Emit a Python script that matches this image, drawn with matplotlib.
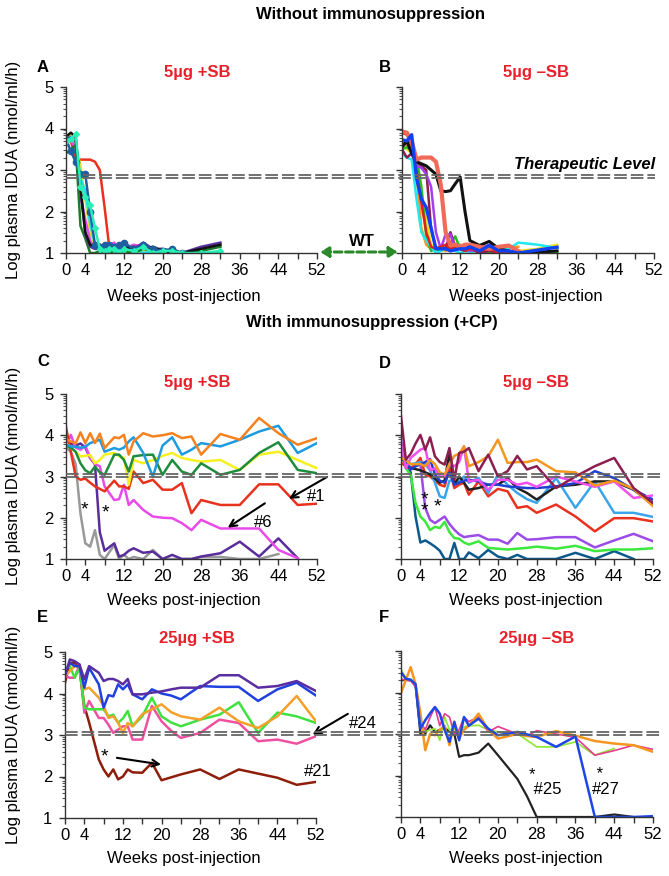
import numpy as np
import matplotlib.pyplot as plt
from matplotlib.lines import Line2D
from matplotlib.transforms import blended_transform_factory

plt.rcParams['font.family'] = ['Liberation Sans', 'DejaVu Sans']

nan = np.nan

# ---- A: 5ug +SB, no immunosuppression
weeks_a = [0, 1, 2, 3, 4, 5, 6, 7, 8, 9, 10, 11, 12, 14, 16, 18, 20, 22, 24, 28, 32]
a_black = [3.8, 3.9, 3.8, 2.6, 1.5, 1.2, 1.15, 1.2, 1.1, 1.15, 1.1, 1.2, 1.1, 1.15, 1.1, 1.15, 1.05, 1.0, 1.0, 1.1, 1.2]
a_purple = [3.7, 3.8, 3.7, 2.5, 1.45, 1.15, 1.1, 1.1, 1.05, 1.1, 1.1, 1.15, 1.2, 1.1, 1.25, 1.1, 1.1, 1.05, 1.0, 1.15, 1.25]
a_green = [3.4, 3.5, 3.6, 1.65, 1.35, 1.0, 1.0, 1.05, 1.0, 1.0, 1.05, 1.0, 1.05, 1.0, 1.1, 1.05, 1.0, 1.0, 1.0, 1.05, 1.15]
a_red = [3.8, 3.7, 3.3, 3.25, 3.25, 3.25, 3.2, 3.0, 2.1, 1.1, 1.1, 1.2, 1.1, 1.1, 1.05, 1.1, 1.0, 1.0, 1.0, nan, nan]
a_yellow = [3.8, 3.85, 3.6, 3.1, 2.3, 1.5, 1.15, 1.1, 1.05, 1.1, 1.05, 1.1, 1.05, 1.0, 1.05, 1.0, 1.05, 1.0, 1.0, nan, nan]
a_magenta = [3.7, 3.75, 3.5, 2.4, 1.8, 1.3, 1.1, 1.2, 1.1, 1.2, 1.25, 1.1, 1.1, 1.2, 1.15, 1.0, 1.05, 1.0, 1.0, nan, nan]
a_cyan = [3.6, 3.75, 3.7, 2.8, 2.5, 1.7, 1.2, 1.05, 1.1, 1.0, 1.05, 1.1, 1.05, 1.1, 1.0, 1.05, 1.0, 1.0, 1.0, 1.0, 1.0]
a_navy = [3.75, 3.45, 3.2, 2.9, 2.9, 2.0, 1.2, 1.15, 1.2, 1.2, 1.15, 1.2, 1.25, 1.1, 1.2, 1.1, 1.05, 1.1, 1.0, nan, nan]
a_mint = [3.7, 3.75, 3.87, 2.6, 2.35, 2.15, 1.6, 1.1, 1.05, 1.1, 1.1, 1.0, 1.1, 1.05, 1.15, 1.0, 1.05, 1.05, 1.0, 1.0, 1.05]

# ---- B: 5ug -SB, no immunosuppression
weeks_b = [0, 1, 2, 3, 4, 5, 6, 7, 8, 9, 10, 11, 12, 13, 14, 16, 18, 20, 22, 24, 28, 32]
b_black = [3.55, 3.7, 3.4, 3.2, 3.15, 3.1, 3.0, 2.9, 2.5, 2.48, 2.5, 2.67, 2.83, 2.0, 1.3, 1.18, 1.28, 1.1, 1.05, 1.0, 1.02, 1.05]
b_salmon = [3.93, 3.9, 3.7, 3.25, 3.3, 3.3, 3.3, 3.2, 2.65, 1.5, 1.18, 1.2, 1.15, 1.2, 1.2, 1.15, 1.1, 1.15, 1.18, 1.05, nan, nan]
b_red = [3.9, 3.85, 3.6, 3.0, 2.2, 1.5, 1.15, 1.1, 1.15, 1.2, 1.1, 1.15, 1.1, 1.05, 1.1, 1.05, 1.1, 1.0, 1.05, 1.0, nan, nan]
b_purple = [3.6, 3.7, 3.4, 3.1, 3.05, 2.9, 2.6, 1.5, 1.1, 1.45, 1.45, 1.1, 1.15, 1.1, 1.05, 1.1, 1.2, 1.05, 1.0, 1.05, nan, nan]
b_maroon = [3.5, 3.3, 3.4, 3.2, 3.1, 3.0, 1.6, 1.1, 1.15, 1.1, 1.5, 1.15, 1.1, 1.05, 1.1, 1.0, 1.05, 1.0, 1.05, 1.0, nan, nan]
b_cyan = [3.4, 3.3, 3.25, 2.3, 1.5, 1.3, 1.15, 1.0, 1.05, 1.15, 1.1, 1.05, 1.0, 1.05, 1.0, 1.1, 1.05, 1.1, 1.1, 1.25, 1.2, 1.12]
b_green = [3.5, 3.55, 3.45, 3.3, 2.6, 1.4, 1.05, 1.1, 1.05, 1.15, 1.25, 1.4, 1.1, 1.05, 1.1, 1.05, 1.0, 1.05, 1.0, 1.0, 1.0, 1.03]
b_yellow = [3.6, 3.5, 3.4, 3.0, 2.5, 1.8, 1.2, 1.1, 1.05, 1.1, 1.05, 1.1, 1.15, 1.05, 1.1, 1.0, 1.1, 1.05, 1.0, 1.05, 1.1, 1.2]
b_orange = [3.65, 3.6, 3.55, 2.9, 1.6, 1.2, 1.1, 1.15, 1.1, 1.05, 1.15, 1.1, 1.2, 1.1, 1.05, 1.15, 1.1, 1.05, 1.15, 1.15, nan, nan]
b_blue = [3.73, 3.7, 3.85, 2.8, 2.3, 2.1, 1.6, 1.1, 1.1, 1.1, 1.05, 1.08, 1.1, 1.1, 1.15, 1.05, 1.18, 1.05, 1.05, 1.0, 1.07, 1.14]

# ---- C: 5ug +SB, +CP
weeks_c = [0, 1, 2, 3, 4, 5, 6, 7, 8, 10, 11, 12, 13, 14, 16, 18, 20, 22, 24, 26, 28, 32, 36, 40, 44, 48, 52]
c_orange = [3.9, 3.85, 3.8, 4.07, 3.81, 4.05, 3.81, 4.04, 3.69, 3.95, 3.93, 4.01, 3.53, 3.85, 4.05, 3.97, 4.0, 4.05, 3.93, 3.97, 3.53, 4.03, 3.89, 4.42, 4.05, 3.77, 3.93]
c_ltblue = [3.77, 3.73, 3.72, 3.7, 3.72, 3.81, 3.85, 3.89, 3.6, 3.69, 3.65, 3.7, 3.85, 3.95, 3.57, 3.0, 3.75, 3.95, 3.53, 3.65, 3.81, 3.73, 3.89, 4.09, 4.23, 3.57, 3.81]
c_yellow = [3.8, 3.7, 3.6, 3.49, 3.5, 3.52, 3.32, 3.4, 3.53, 3.57, 3.49, 3.45, 2.8, 3.4, 3.32, 3.4, 3.5, 3.57, 3.45, 3.4, 3.36, 3.4, 3.16, 3.53, 3.6, 3.4, 3.2]
c_green = [3.75, 3.7, 3.6, 3.32, 3.15, 3.08, 3.24, 3.1, 3.04, 3.53, 3.53, 3.4, 3.12, 3.49, 3.52, 3.53, 3.04, 3.4, 3.12, 3.04, 3.32, 3.04, 3.16, 3.57, 3.83, 3.16, 3.08]
c_red = [4.2, 3.6, 3.0, 2.92, 2.95, 2.85, 2.76, 2.7, 2.64, 2.9, 2.76, 2.76, 2.7, 3.12, 2.84, 2.92, 2.68, 2.68, 2.84, 2.11, 2.43, 2.31, 2.31, 2.81, 2.81, 2.31, 2.34]
c_magenta = [3.73, 4.01, 3.7, 3.65, 3.75, 3.45, 3.3, 3.25, 2.76, 2.43, 2.45, 2.8, 2.31, 2.43, 2.19, 2.03, 2.0, 1.99, 1.87, 1.7, 1.95, 1.74, 1.74, 1.74, 1.22, 1.02, nan]
c_purple = [3.75, 3.8, 3.75, 3.8, 3.7, 3.45, 3.3, 1.65, 1.2, 1.38, 1.06, 1.1, 1.2, 1.26, 1.15, 1.18, 1.0, 1.1, 1.0, 1.0, 1.06, 1.14, 1.42, 1.06, 1.5, 1.02, nan]
c_gray = [3.7, 3.6, 3.3, 2.1, 1.38, 1.3, 1.7, 1.1, 1.0, 1.34, 1.0, 1.1, 1.0, 1.05, 1.0, 1.22, 1.0, 1.0, 1.0, 1.0, 1.05, 1.05, 1.0, 1.0, 1.12, nan, nan]

# ---- D: 5ug -SB, +CP
weeks_d = [0, 1, 2, 3, 4, 5, 6, 7, 8, 9, 10, 11, 12, 13, 14, 16, 18, 20, 22, 24, 26, 28, 32, 36, 40, 44, 48, 52]
d_maroon = [4.46, 3.41, 3.55, 3.8, 4.01, 3.65, 3.95, 3.49, 3.35, 3.29, 3.69, 2.92, 3.57, 3.6, 3.69, 3.13, 3.53, 3.0, 3.13, 3.5, 3.17, 3.25, 2.72, 3.0, 3.25, 3.45, 2.72, 2.36]
d_orange = [3.45, 3.4, 3.3, 3.3, 3.3, 3.25, 3.4, 3.3, 3.1, 3.05, 3.3, 3.5, 3.55, 3.73, 3.25, 3.35, 3.49, 3.89, 3.33, 3.35, 3.35, 3.41, 3.13, 3.1, 2.78, 2.9, 2.7, 2.28]
d_magenta = [3.81, 3.2, 3.45, 3.55, 3.65, 3.69, 3.15, 3.2, 3.0, 3.0, 3.3, 3.25, 3.35, 3.73, 2.88, 2.92, 2.68, 2.92, 2.92, 2.8, 2.85, 2.75, 3.0, 2.88, 2.75, 2.88, 2.48, 2.54]
d_blue = [3.57, 3.4, 3.17, 3.25, 3.3, 3.35, 3.42, 3.05, 2.9, 2.85, 3.1, 2.8, 2.85, 2.9, 2.92, 2.88, 2.8, 2.8, 2.76, 2.74, 2.72, 2.72, 2.76, 2.84, 3.13, 2.96, 2.68, 2.44]
d_black = [3.5, 3.3, 3.2, 3.18, 3.15, 3.1, 3.05, 2.95, 2.85, 2.9, 3.57, 2.8, 3.0, 2.85, 2.68, 2.72, 2.8, 2.8, 2.96, 2.72, 2.6, 2.44, 2.76, 2.8, 2.88, 2.88, 2.68, 2.32]
d_red = [3.33, 3.25, 3.2, 3.3, 3.45, 3.05, 3.0, 2.9, 2.8, 2.76, 3.2, 2.72, 2.8, 2.85, 2.56, 2.88, 2.52, 2.7, 2.64, 2.24, 2.28, 2.12, 2.32, 2.03, 1.67, 1.99, 1.99, 1.91]
d_ltblue = [3.57, 3.4, 3.3, 3.32, 3.35, 3.3, 3.15, 2.85, 2.52, 2.48, 2.9, 2.9, 2.88, 3.0, 2.85, 2.97, 2.6, 3.05, 2.8, 2.6, 2.45, 2.36, 2.96, 2.24, 2.88, 2.12, 2.12, 2.02]
d_purple = [3.85, 3.3, 3.2, 3.25, 3.3, 2.24, 1.95, 1.87, 1.95, 2.03, 1.85, 1.71, 1.6, 1.53, 1.55, 1.58, 1.47, 1.47, 1.37, 1.63, 1.47, 1.48, 1.53, 1.53, 1.28, 1.45, 1.61, 1.43]
d_green = [3.6, 3.2, 3.04, 2.36, 2.03, 1.91, 1.7, 1.78, 1.75, 1.9, 1.65, 1.51, 1.49, 1.4, 1.35, 1.43, 1.27, 1.25, 1.23, 1.25, 1.27, 1.3, 1.25, 1.32, 1.19, 1.23, 1.23, 1.26]
d_teal = [3.5, 3.3, 3.1, 2.03, 1.4, 1.45, 1.38, 1.3, 1.2, 1.0, 1.0, 1.39, 1.0, 1.0, 1.16, 1.02, 1.22, 1.06, 1.0, 1.1, 1.0, 1.0, 1.0, 1.15, 1.0, 1.19, 1.0, nan]

# ---- E: 25ug +SB, +CP
weeks_e = [0, 1, 2, 3, 4, 5, 7, 8, 9, 10, 11, 12, 13, 14, 16, 18, 20, 22, 24, 28, 32, 36, 40, 44, 48, 52]
e_purple = [4.42, 4.82, 4.78, 4.7, 4.34, 4.66, 4.5, 4.3, 4.35, 4.35, 4.3, 4.22, 4.35, 3.98, 3.98, 4.02, 4.05, 4.1, 4.14, 4.14, 4.44, 4.44, 4.14, 4.18, 4.3, 4.06]
e_blue = [4.5, 4.74, 4.66, 4.66, 4.14, 4.62, 4.22, 3.66, 3.96, 3.93, 4.22, 4.1, 4.22, 3.98, 3.86, 4.1, 4.0, 3.95, 3.86, 4.18, 4.16, 4.16, 3.82, 4.1, 4.26, 3.95]
e_orange = [4.42, 4.54, 4.66, 4.66, 4.1, 4.14, 3.9, 3.7, 3.41, 3.45, 3.3, 3.05, 3.29, 3.21, 3.5, 3.62, 3.74, 3.55, 3.45, 3.37, 3.66, 3.33, 3.17, 3.45, 3.94, 3.33]
e_green = [4.58, 4.66, 4.38, 4.62, 3.66, 3.62, 3.62, 3.62, 3.45, 3.49, 3.29, 3.4, 3.58, 3.21, 3.45, 3.9, 3.45, 3.3, 3.21, 3.37, 3.49, 3.79, 3.05, 3.54, 3.45, 3.29]
e_pink = [4.42, 4.38, 4.38, 4.7, 3.54, 3.82, 3.41, 3.41, 3.25, 3.05, 3.13, 3.21, 3.21, 2.89, 2.89, 3.7, 3.33, 3.1, 2.93, 3.05, 3.37, 3.29, 2.85, 2.89, 2.79, 2.97]
e_brown = [4.26, 4.74, 4.74, 4.58, 3.7, 3.3, 2.41, 2.17, 2.0, 2.17, 1.93, 2.0, 2.17, 2.1, 2.09, 2.33, 1.91, 1.98, 2.05, 2.17, 1.94, 2.17, 2.07, 1.97, 1.8, 1.87]

# ---- F: 25ug -SB, +CP
weeks_f = [0, 1, 2, 3, 4, 5, 6, 7, 8, 9, 10, 11, 12, 13, 14, 16, 18, 20, 24, 26, 28, 32, 36, 40, 44, 48, 52]
f_green = [4.57, 4.33, 4.29, 4.2, 3.17, 3.05, 3.1, 3.13, 2.85, 3.41, 3.1, 3.13, 3.0, 3.17, 3.2, 3.21, 3.1, 3.05, 3.01, 2.85, 2.69, 2.69, 2.81, 2.49, 2.65, nan, nan]
f_pink = [4.33, 4.29, 4.29, 4.13, 3.3, 3.1, 3.4, 3.65, 3.2, 3.49, 3.41, 3.0, 3.1, 3.41, 3.3, 3.41, 3.05, 3.18, 3.0, 2.95, 3.08, 3.0, 2.92, 2.49, 2.6, 2.73, 2.63]
f_orange = [3.99, 4.3, 4.61, 4.2, 3.5, 2.61, 3.0, 2.97, 3.1, 3.2, 2.73, 3.3, 2.9, 3.1, 3.2, 3.49, 3.1, 2.89, 3.0, 2.95, 2.93, 3.07, 2.96, 2.83, 2.77, 2.73, 2.57]
f_black = [4.29, 4.31, 4.29, 4.2, 3.01, 3.01, 3.21, 3.05, 3.1, 3.15, 3.05, 3.01, 2.45, 2.49, 2.49, 2.55, 2.77, 2.49, 1.92, 1.5, 1.0, 1.0, 1.0, 1.0, 1.06, 1.0, nan]
f_blue = [4.49, 4.33, 4.31, 4.2, 3.13, 3.33, 3.5, 3.65, 3.49, 3.1, 2.81, 3.29, 2.85, 3.41, 3.2, 3.37, 3.13, 2.97, 3.05, 2.99, 2.93, 2.69, 2.94, 1.0, 1.0, 1.0, 1.02]

# therapeutic level (two dashed lines per row)
level_ab = [2.89, 2.81]
level_cd = [3.06, 3.00]
level_ef = [3.08, 3.01]

x_ticks = list(range(0, 53, 4))
x_labels = ['0', '4', '12', '20', '28', '36', '44', '52']

RED = '#e8202a'
W, H = 669, 876
fig = plt.figure(figsize=(W / 100, H / 100), dpi=100)


def add_ax(x0, x1, ytop, ybot):
    return fig.add_axes([x0 / W, 1 - ybot / H, (x1 - x0) / W, (ybot - ytop) / H])


def style(ax, left):
    ax.set_xlim(0, 52)
    ax.set_ylim(1, 5)
    for s in ['top', 'right']:
        ax.spines[s].set_visible(False)
    for s in ['left', 'bottom']:
        ax.spines[s].set_color('#333333')
        ax.spines[s].set_linewidth(1.0)
    ax.set_xticks(x_ticks)
    ax.set_xticklabels([str(t) if str(t) in x_labels else '' for t in x_ticks])
    ax.set_yticks([1, 2, 3, 4, 5])
    minor = [n + np.log10(k) for n in range(1, 5) for k in range(2, 10)]
    ax.set_yticks(minor, minor=True)
    ax.tick_params(axis='both', direction='out', length=4, width=1, color='#333333',
                   labelsize=12, pad=3)
    ax.tick_params(axis='y', which='minor', length=2, width=0.8, color='#555555')
    ax.tick_params(axis='y', labelleft=left, pad=5)


def draw(ax, weeks, series, lw=1.8):
    for vals, col, *extra in series:
        kw = dict(extra[0]) if extra else {}
        ax.plot(weeks, vals, color=col, lw=kw.pop('lw', lw), solid_joinstyle='round', **kw)


axA = add_ax(66, 317, 87, 253)
axB = add_ax(402, 654, 87, 253)
axC = add_ax(66, 317, 394, 559)
axD = add_ax(401, 653, 394, 559)
axE = add_ax(65, 316, 652, 818)
axF = add_ax(401, 653, 651, 817)
for ax, left in [(axA, True), (axB, False), (axC, True), (axD, False), (axE, True), (axF, False)]:
    style(ax, left)

draw(axA, weeks_a, [
    (a_red, '#e8321e'), (a_yellow, '#f0e01e'), (a_magenta, '#e050e8'),
    (a_cyan, '#20e0f0'), (a_green, '#1e7a2a'), (a_purple, '#5a2d9c'), (a_black, '#111111'),
    (a_navy, '#1f5fa0', dict(marker='o', ms=4.5)),
    (a_mint, '#28f0b4', dict(marker='D', ms=3)),
])
draw(axB, weeks_b, [
    (b_orange, '#f5961e'), (b_yellow, '#f0e020'), (b_green, '#20c020'), (b_cyan, '#20e8f0'),
    (b_maroon, '#8c1e50'), (b_purple, '#a040f0'), (b_red, '#e0201e'),
    (b_black, '#111111', dict(lw=2.2)), (b_salmon, '#f06a5a', dict(lw=3)),
    (b_blue, '#1040f0', dict(lw=2.4)),
])
draw(axC, weeks_c, [
    (c_gray, '#999999'), (c_purple, '#5a2d9c'), (c_magenta, '#e84be8'), (c_red, '#e8321e'),
    (c_yellow, '#f5f01e'), (c_green, '#1e8c3c'), (c_ltblue, '#1e9ae0'), (c_orange, '#f5821f'),
])
draw(axD, weeks_d, [
    (d_teal, '#0c5a8c'), (d_green, '#3ce83c'), (d_purple, '#9b4be8'), (d_red, '#e8321e'),
    (d_ltblue, '#3aa5ea'), (d_black, '#222222'), (d_blue, '#2040d0'), (d_magenta, '#f050f0'),
    (d_orange, '#f5961e'), (d_maroon, '#8c1e50'),
])
draw(axE, weeks_e, [
    (e_brown, '#8c1e0a'), (e_pink, '#f050a0'), (e_green, '#40e040'), (e_orange, '#f5a02a'),
    (e_blue, '#2040e0'), (e_purple, '#5a2da0'),
])
draw(axF, weeks_f, [
    (f_black, '#222222', dict(lw=1.6)), (f_green, '#96e63c', dict(lw=1.3)),
    (f_pink, '#e63c8c', dict(lw=1.2)), (f_orange, '#f59620'), (f_blue, '#1e46e6'),
])

# therapeutic level lines across each row
for ax, levels, x_end in [(axA, level_ab, 655), (axC, level_cd, 663), (axE, level_ef, 663)]:
    tr = blended_transform_factory(fig.transFigure, ax.transData)
    for lv in levels:
        fig.add_artist(Line2D([ax.get_position().x0, x_end / W], [lv, lv], transform=tr,
                              color='#666666', lw=1.3, ls=(0, (7, 2.2))))

# headings and panel labels
fig.text(371 / W, 1 - 14 / H, 'Without immunosuppression', ha='center', va='center',
         fontsize=12, fontweight='bold')
fig.text(372 / W, 1 - 322 / H, 'With immunosuppression (+CP)', ha='center', va='center',
         fontsize=12, fontweight='bold')
for lab, x, y in [('A', 43, 67), ('B', 385, 67), ('C', 43, 362), ('D', 385, 363),
                  ('E', 42, 618), ('F', 384, 618)]:
    fig.text(x / W, 1 - y / H, lab, ha='center', va='center', fontsize=12, fontweight='bold')
for t, x, y in [('5µg +SB', 197, 73), ('5µg –SB', 536, 73), ('5µg +SB', 197, 383),
                ('5µg –SB', 536, 383), ('25µg +SB', 197, 638), ('25µg –SB', 537, 638)]:
    fig.text(x / W, 1 - y / H, t, ha='center', va='center', fontsize=12,
             fontweight='bold', color=RED)
for y in [170, 476, 735]:
    fig.text(14 / W, 1 - y / H, 'Log plasma IDUA (nmol/ml/h)', rotation=90,
             ha='center', va='center', fontsize=12)
for x, y in [(184, 296), (526, 296), (184, 601), (526, 601), (184, 859), (526, 859)]:
    fig.text(x / W, 1 - y / H, 'Weeks post-injection', ha='center', va='center', fontsize=12)

fig.text(655 / W, 1 - 165 / H, 'Therapeutic Level', ha='right', va='center', fontsize=12,
         fontweight='bold', fontstyle='italic')
fig.text(362 / W, 1 - 241 / H, 'WT', ha='center', va='center', fontsize=12, fontweight='bold')
axA.annotate('', xy=(398 / W, 1 - 252 / H), xytext=(320 / W, 1 - 252 / H),
             xycoords='figure fraction', textcoords='figure fraction', annotation_clip=False,
             arrowprops=dict(arrowstyle='<|-|>,head_length=0.5,head_width=0.3',
                             color='#2a8a2a', lw=2.2, ls=(0, (2.5, 1.2)), shrinkA=0, shrinkB=0))

# annotations
arrow = dict(arrowstyle='->,head_length=0.5,head_width=0.25', color='black', lw=1.5,
             shrinkA=0, shrinkB=0)
star = dict(ha='center', va='center', fontsize=14)
axC.text(3.9, 2.2, '*', **star)
axC.text(8.1, 2.12, '*', **star)
axC.text(51.8, 2.51, '#1', ha='center', va='center', fontsize=12, clip_on=False)
axC.annotate('', xy=(46.2, 2.46), xytext=(54.1, 2.99), arrowprops=arrow, annotation_clip=False)
axC.text(40.8, 1.89, '#6', ha='center', va='center', fontsize=12)
axC.annotate('', xy=(33.5, 1.76), xytext=(41.2, 2.35), arrowprops=arrow)

# two stacked stars drawn as one two-line text
axD.text(4.8, 2.3, '*\n*', ha='center', va='center', fontsize=14, linespacing=0.55)
axD.text(7.6, 2.25, '*', **star)

axE.text(8.2, 2.46, '*', **star)
axE.annotate('', xy=(19.9, 2.29), xytext=(10.75, 2.45), arrowprops=arrow)
axE.text(52.3, 2.11, '#21', ha='center', va='center', fontsize=12, clip_on=False)
axE.text(61.8, 3.28, '#24', ha='center', va='center', fontsize=12, clip_on=False)
axE.annotate('', xy=(51.3, 3.01), xytext=(58.6, 3.51), arrowprops=arrow, annotation_clip=False)

# star over label, as one text block
axF.text(26.4, 1.85, '*\n #25', ha='left', va='center', fontsize=12, linespacing=1.0)
axF.text(39.4, 1.85, ' *\n#27', ha='left', va='center', fontsize=12, linespacing=1.0)

fig.savefig('out.png', dpi=100)
